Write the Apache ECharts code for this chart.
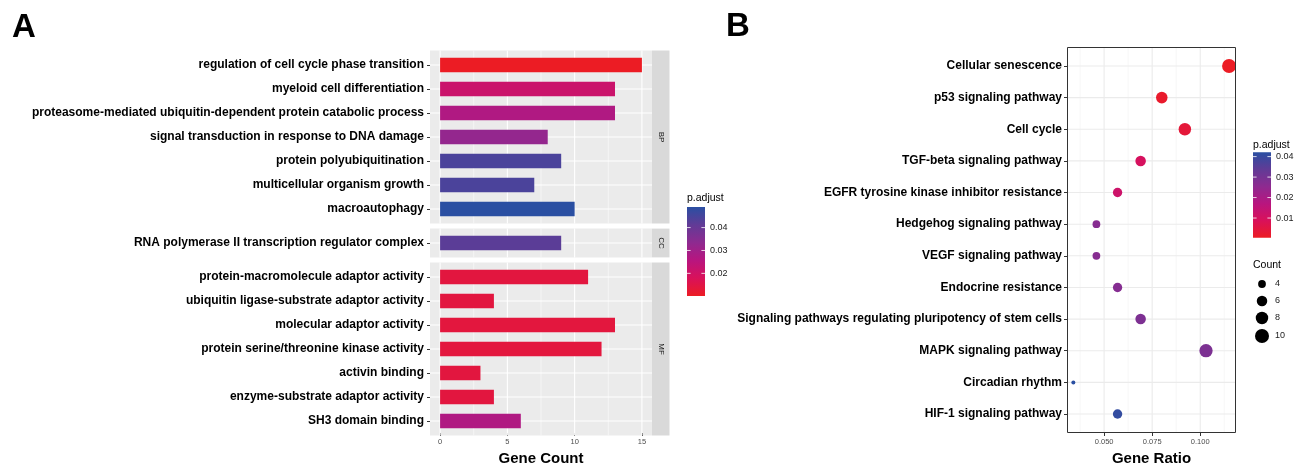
<!DOCTYPE html>
<html>
<head>
<meta charset="utf-8">
<script src="https://cdn.jsdelivr.net/npm/echarts@6/dist/echarts.min.js"></script>
<style>
  html, body { margin: 0; padding: 0; background: #fff; }
  #main { width: 1304px; height: 466px; }
</style>
</head>
<body>
<div id="main"></div>
<script>
// ---- panel A : GO enrichment (bar) ----
const bpTerms = [
  'regulation of cell cycle phase transition',
  'myeloid cell differentiation',
  'proteasome-mediated ubiquitin-dependent protein catabolic process',
  'signal transduction in response to DNA damage',
  'protein polyubiquitination',
  'multicellular organism growth',
  'macroautophagy'
];
const bpCount = [15, 13, 13, 8, 9, 7, 10];
const bpPadj = [0.0101, 0.0215, 0.0272, 0.0323, 0.0443, 0.0443, 0.0490];

const ccTerms = ['RNA polymerase II transcription regulator complex'];
const ccCount = [9];
const ccPadj = [0.0420];

const mfTerms = [
  'protein-macromolecule adaptor activity',
  'ubiquitin ligase-substrate adaptor activity',
  'molecular adaptor activity',
  'protein serine/threonine kinase activity',
  'activin binding',
  'enzyme-substrate adaptor activity',
  'SH3 domain binding'
];
const mfCount = [11, 4, 13, 12, 3, 4, 6];
const mfPadj = [0.0140, 0.0140, 0.0138, 0.0139, 0.0140, 0.0140, 0.0272];

const countTicks = [0, 5, 10, 15];
const countMinor = [2.5, 7.5, 12.5];
const padjTicksA = [0.02, 0.03, 0.04];

// ---- panel B : KEGG enrichment (dot) ----
const keggTerms = [
  'Cellular senescence',
  'p53 signaling pathway',
  'Cell cycle',
  'TGF-beta signaling pathway',
  'EGFR tyrosine kinase inhibitor resistance',
  'Hedgehog signaling pathway',
  'VEGF signaling pathway',
  'Endocrine resistance',
  'Signaling pathways regulating pluripotency of stem cells',
  'MAPK signaling pathway',
  'Circadian rhythm',
  'HIF-1 signaling pathway'
];
const keggRatio = [0.115, 0.080, 0.092, 0.069, 0.057, 0.046, 0.046, 0.057, 0.069, 0.103, 0.034, 0.057];
const keggCount = [10, 7, 8, 6, 5, 4, 4, 5, 6, 9, 3, 5];
const keggPadj = [0.0004, 0.0017, 0.0037, 0.0096, 0.0121, 0.0268, 0.0268, 0.0270, 0.0285, 0.0288, 0.0421, 0.0408];

const ratioTicks = [0.05, 0.075, 0.1];
const ratioMinor = [0.0375, 0.0625, 0.0875, 0.1125];
const padjTicksB = [0.01, 0.02, 0.03, 0.04];
const countLegend = [4, 6, 8, 10];

const FONT = '"Liberation Sans", Arial, sans-serif';
const palette = ['#EC1C24', '#D9115A', '#B8157F', '#8E2A90', '#613B96', '#2A4FA2'];

const chart = echarts.init(document.getElementById('main'));

// dot size like ggplot scale_size (area)
const cMin = Math.min(...keggCount), cMax = Math.max(...keggCount);
function dotSize(c) {
  const s = 1 + 5 * Math.sqrt(Math.max(0, c - cMin) / (cMax - cMin));
  return 2 * s + 2;
}

const ROW = 24;
const goPanels = [
  { terms: bpTerms, count: bpCount, padj: bpPadj, tag: 'BP', top: 50.6 },
  { terms: ccTerms, count: ccCount, padj: ccPadj, tag: 'CC', top: 228.6 },
  { terms: mfTerms, count: mfCount, padj: mfPadj, tag: 'MF', top: 262.6 }
];
const panelA = { left: 430, width: 222 };
const panelB = { left: 1067, top: 47, width: 169, height: 386 };

const grids = [], xAxes = [], yAxes = [], series = [];

goPanels.forEach((p, i) => {
  p.height = (p.terms.length + 0.2) * ROW;   // ggplot panel incl. 0.6 expansion each side
  grids.push({
    left: panelA.left, top: p.top + 0.1 * ROW, width: panelA.width, height: p.terms.length * ROW,
    containLabel: false, outerBoundsMode: 'none'
  });
  const last = i === goPanels.length - 1;
  xAxes.push({
    type: 'value', gridIndex: i, min: -0.75, max: 15.75,
    axisLine: { show: false, onZero: false },
    splitLine: { show: false },
    axisTick: { show: last, customValues: countTicks, length: 3, lineStyle: { color: '#333' } },
    axisLabel: { show: last, customValues: countTicks, margin: 5.4, color: '#4D4D4D', fontSize: 7.5, fontFamily: FONT },
    name: last ? 'Gene Count' : '',
    nameLocation: 'middle', nameGap: 18.5,
    nameTextStyle: { fontFamily: FONT, fontSize: 15, fontWeight: 'bold', color: '#000' }
  });
  yAxes.push({
    type: 'category', gridIndex: i, data: p.terms, inverse: true,
    axisLine: { show: false, onZero: false },
    splitLine: { show: false },
    axisTick: { show: true, alignWithLabel: true, length: 3, lineStyle: { color: '#333' } },
    axisLabel: { margin: 6, color: '#000', fontSize: 12, fontWeight: 'bold', fontFamily: FONT }
  });
  series.push({
    type: 'bar', xAxisIndex: i, yAxisIndex: i, z: 2,
    barWidth: 14.4,
    encode: { x: 0, y: 1 },
    data: p.count.map((c, k) => [c, k, p.padj[k]]),
    animation: false
  });
});

// panel B
grids.push({
  left: panelB.left, top: panelB.top, width: panelB.width, height: panelB.height,
  show: true, backgroundColor: '#fff', borderWidth: 0,
  containLabel: false, outerBoundsMode: 'none'
});
xAxes.push({
  type: 'value', gridIndex: 3, min: 0.0307, max: 0.1186,
  axisLine: { show: false, onZero: false },
  splitLine: { show: false },
  axisTick: { customValues: ratioTicks, length: 3, lineStyle: { color: '#333' } },
  axisLabel: { customValues: ratioTicks, margin: 5, color: '#4D4D4D', fontSize: 7.5, fontFamily: FONT,
    formatter: v => v.toFixed(3) },
  name: 'Gene Ratio', nameLocation: 'middle', nameGap: 18,
  nameTextStyle: { fontFamily: FONT, fontSize: 15, fontWeight: 'bold', color: '#000' }
});
const keggIdx = keggTerms.map((t, i) => i);
yAxes.push({
  type: 'value', gridIndex: 3, inverse: true, min: -0.6, max: keggTerms.length - 0.4,
  axisLine: { show: false, onZero: false },
  splitLine: { show: false },
  axisTick: { customValues: keggIdx, length: 3, lineStyle: { color: '#333' } },
  axisLabel: { customValues: keggIdx, margin: 5, color: '#000', fontSize: 12, fontWeight: 'bold', fontFamily: FONT,
    formatter: v => keggTerms[Math.round(v)] }
});
series.push({
  type: 'scatter', xAxisIndex: 3, yAxisIndex: 3, z: 2,
  data: keggRatio.map((r, i) => [r, i, keggCount[i], keggPadj[i]]),
  symbolSize: d => dotSize(d[2]),
  itemStyle: { opacity: 1 },
  animation: false
});

const padjA = bpPadj.concat(ccPadj, mfPadj);
const rangeA = [Math.min(...padjA), Math.max(...padjA)];
const rangeB = [Math.min(...keggPadj), Math.max(...keggPadj)];

chart.setOption({
  backgroundColor: '#fff',
  animation: false,
  grid: grids,
  xAxis: xAxes,
  yAxis: yAxes,
  visualMap: [
    { type: 'continuous', show: false, seriesIndex: [0, 1, 2], dimension: 2,
      min: rangeA[0], max: rangeA[1], inRange: { color: palette } },
    { type: 'continuous', show: false, seriesIndex: [3], dimension: 3,
      min: rangeB[0], max: rangeB[1], inRange: { color: palette } }
  ],
  series: series
});

// ---- decorations: panel backgrounds, grid lines, strips, legends ----
const graphics = [];
function gline(x1, y1, x2, y2, color, w) {
  graphics.push({ type: 'line', z: 1, silent: true,
    shape: { x1: x1, y1: y1, x2: x2, y2: y2 }, style: { stroke: color, lineWidth: w } });
}

goPanels.forEach((p, i) => {
  const x0 = panelA.left, x1 = panelA.left + panelA.width, y0 = p.top, y1 = p.top + p.height;
  graphics.push({ type: 'rect', z: 0, silent: true,
    shape: { x: x0, y: y0, width: panelA.width, height: p.height }, style: { fill: '#EBEBEB' } });
  countMinor.forEach(v => { const x = chart.convertToPixel({ xAxisIndex: i }, v); gline(x, y0, x, y1, '#fff', 0.55); });
  countTicks.forEach(v => { const x = chart.convertToPixel({ xAxisIndex: i }, v); gline(x, y0, x, y1, '#fff', 1.1); });
  p.terms.forEach(t => { const y = chart.convertToPixel({ yAxisIndex: i }, t); gline(x0, y, x1, y, '#fff', 1.1); });
  graphics.push({ type: 'rect', silent: true,
    shape: { x: x1, y: y0, width: 17.5, height: p.height }, style: { fill: '#D9D9D9' } });
  graphics.push({ type: 'text', silent: true, x: x1 + 8.75, y: y0 + p.height / 2, rotation: -Math.PI / 2,
    style: { text: p.tag, fill: '#1A1A1A', font: '8px ' + FONT, align: 'center', verticalAlign: 'middle' } });
});

{
  const x0 = panelB.left, x1 = panelB.left + panelB.width, y0 = panelB.top, y1 = panelB.top + panelB.height;
  ratioMinor.forEach(v => { const x = chart.convertToPixel({ xAxisIndex: 3 }, v); gline(x, y0, x, y1, '#F2F2F2', 0.6); });
  ratioTicks.forEach(v => { const x = chart.convertToPixel({ xAxisIndex: 3 }, v); gline(x, y0, x, y1, '#EBEBEB', 1.1); });
  keggIdx.forEach(v => { const y = chart.convertToPixel({ yAxisIndex: 3 }, v); gline(x0, y, x1, y, '#EBEBEB', 1.1); });
  graphics.push({ type: 'rect', z: 100, silent: true,
    shape: { x: x0 + 0.5, y: y0 + 0.5, width: panelB.width - 1, height: panelB.height - 1 },
    style: { fill: 'none', stroke: '#333', lineWidth: 1 } });
}

function colorBar(x, titleY, barY, barH, range, ticks) {
  const stops = palette.map((c, i) => ({ offset: i / (palette.length - 1), color: c }));
  graphics.push({ type: 'text', x: x, y: titleY,
    style: { text: 'p.adjust', fill: '#000', font: '10.5px ' + FONT, verticalAlign: 'top' } });
  graphics.push({ type: 'rect', shape: { x: x, y: barY, width: 18, height: barH },
    style: { fill: new echarts.graphic.LinearGradient(0, 1, 0, 0, stops) } });
  ticks.forEach(v => {
    const y = barY + (range[1] - v) / (range[1] - range[0]) * barH;
    graphics.push({ type: 'line', z: 5, shape: { x1: x, y1: y, x2: x + 3.6, y2: y }, style: { stroke: '#fff', lineWidth: 0.8 } });
    graphics.push({ type: 'line', z: 5, shape: { x1: x + 14.4, y1: y, x2: x + 18, y2: y }, style: { stroke: '#fff', lineWidth: 0.8 } });
    graphics.push({ type: 'text', x: x + 23, y: y,
      style: { text: v.toFixed(2), fill: '#1A1A1A', font: '9px ' + FONT, verticalAlign: 'middle' } });
  });
}
colorBar(687, 193, 207, 89, rangeA, padjTicksA);
colorBar(1253, 140, 152.3, 85.4, rangeB, padjTicksB);

graphics.push({ type: 'text', x: 1253, y: 260,
  style: { text: 'Count', fill: '#000', font: '10.5px ' + FONT, verticalAlign: 'top' } });
const legendY = [284, 301, 318, 336];
countLegend.forEach((c, i) => {
  graphics.push({ type: 'circle', shape: { cx: 1262, cy: legendY[i], r: dotSize(c) / 2 }, style: { fill: '#000' } });
  graphics.push({ type: 'text', x: 1275, y: legendY[i],
    style: { text: String(c), fill: '#1A1A1A', font: '9px ' + FONT, verticalAlign: 'middle' } });
});

graphics.push({ type: 'text', x: 12, y: 28, style: { text: 'A', fill: '#000', font: 'bold 33px ' + FONT, verticalAlign: 'middle' } });
graphics.push({ type: 'text', x: 726, y: 27, style: { text: 'B', fill: '#000', font: 'bold 33px ' + FONT, verticalAlign: 'middle' } });

chart.setOption({ graphic: graphics });
</script>
</body>
</html>
